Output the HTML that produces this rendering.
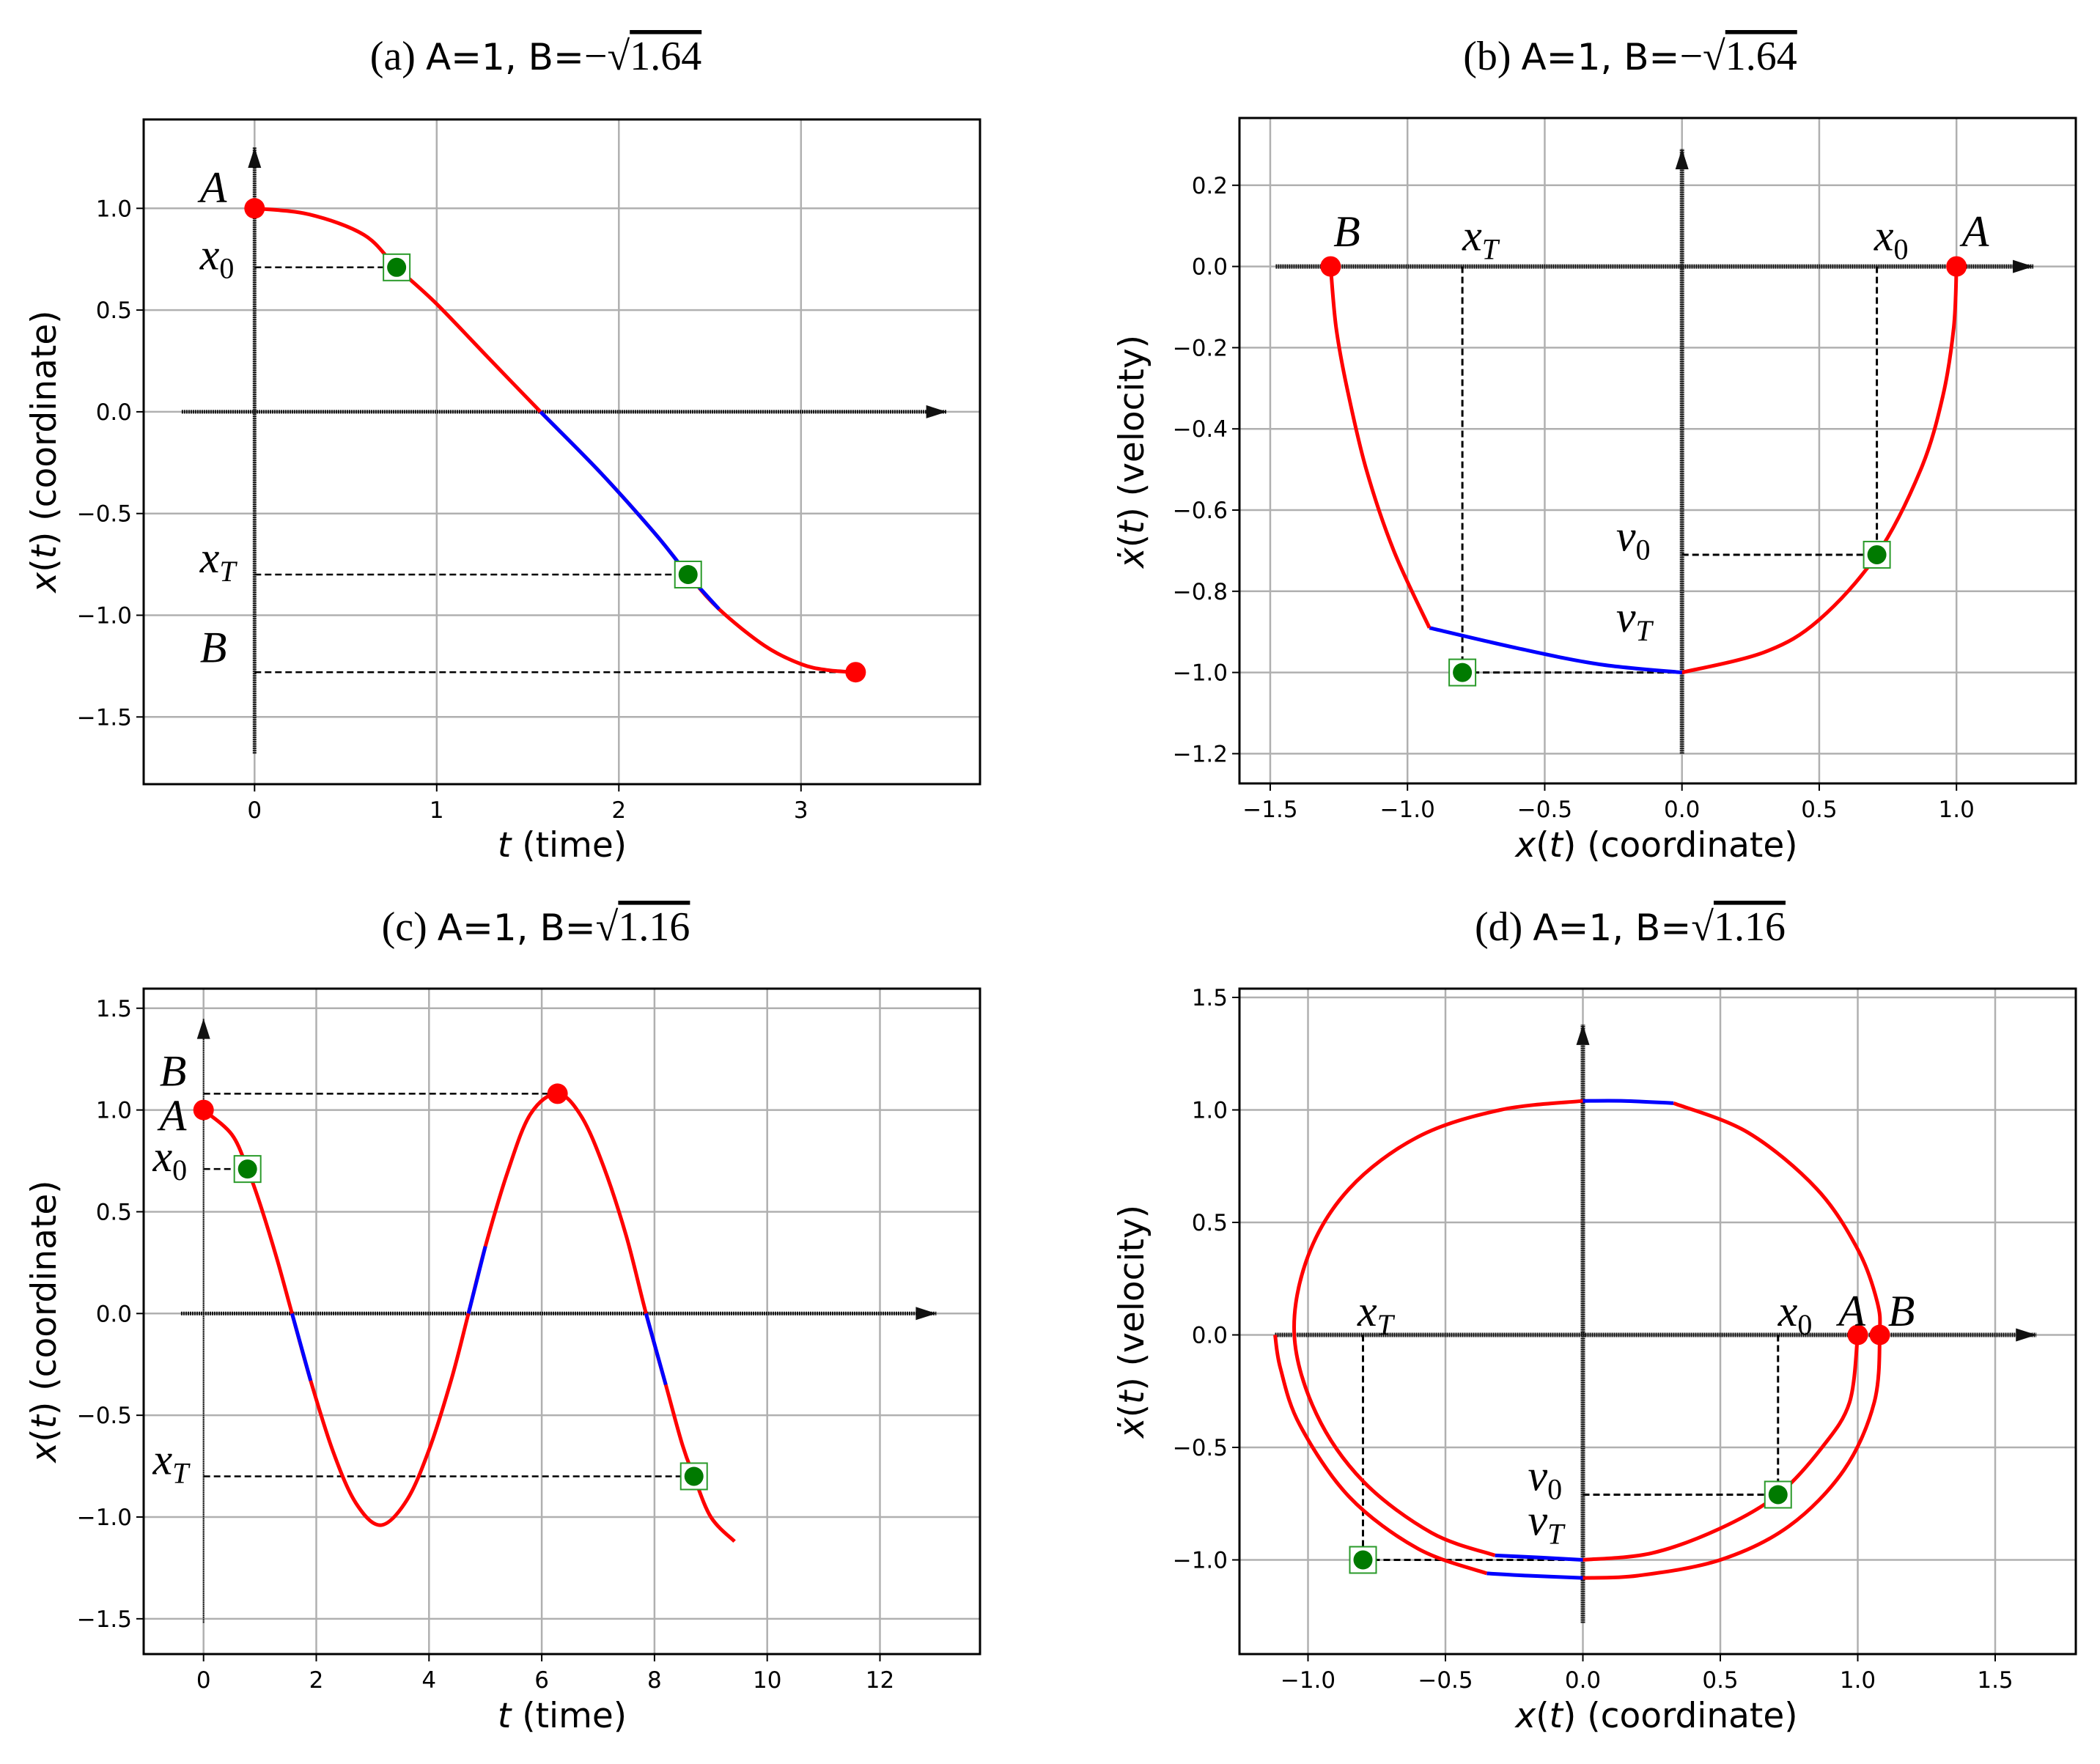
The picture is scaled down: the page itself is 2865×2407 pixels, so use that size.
<!DOCTYPE html>
<html><head><meta charset="utf-8"><style>
body{margin:0;background:#fff}
svg{display:block}
.tk{font-family:"DejaVu Sans","Liberation Sans",sans-serif;font-size:31px;fill:#000}
.al{font-family:"DejaVu Sans","Liberation Sans",sans-serif;font-size:47px;fill:#000}
.ti{font-size:56px;fill:#000}
.mt{font-family:"Liberation Serif",serif;font-style:italic;font-size:60px;fill:#000}
</style></head><body>
<svg id="fig" width="2865" height="2407" viewBox="0 0 2865 2407" xmlns="http://www.w3.org/2000/svg"></svg>
<script>
// ---- data ----
const aT=[0,0.3,0.6,0.78,1.0,1.3,1.57,1.9,2.2,2.38,2.55,2.8,3.0,3.15,3.3];
const aX=[1,0.97,0.87,0.71,0.53,0.25,0,-0.3,-0.6,-0.8,-0.97,-1.15,-1.24,-1.27,-1.28];
const aBlue=[1.57,2.55];
const bRX=[1,0.99,0.95,0.87,0.71,0.5,0.3,0];
const bRV=[0,-0.15,-0.32,-0.5,-0.71,-0.87,-0.95,-1];
const bBX=[0,-0.3,-0.6,-0.92];
const bBV=[-1,-0.98,-0.94,-0.89];
const bLX=[-0.92,-1.05,-1.15,-1.22,-1.26,-1.28];
const bLV=[-0.89,-0.7,-0.5,-0.3,-0.15,0];
const cT=[0,0.5,0.78,1.0,1.3,1.57,1.9,2.3,2.7,3.14,3.6,4.0,4.4,4.7,5.0,5.4,5.8,6.28,6.7,7.1,7.5,7.85,8.2,8.5,8.7,9.0,9.42];
const cX=[1,0.88,0.71,0.54,0.27,0,-0.33,-0.68,-0.93,-1.04,-0.92,-0.67,-0.32,0,0.33,0.7,0.98,1.08,0.97,0.72,0.38,0,-0.35,-0.65,-0.8,-1.0,-1.12];
const cBlue=[[1.57,1.9],[4.7,5.0],[7.85,8.2]];
const dSegX=[[1,0.97,0.87,0.71,0.5,0.25,0],[0,-0.15,-0.32],[-0.32,-0.55,-0.8,-0.97,-1.05,-1.0,-0.85,-0.6,-0.3,0],[0,0.15,0.33],[0.33,0.6,0.85,1.0,1.07,1.08,1.06,0.95,0.75,0.5,0.2,0],[0,-0.2,-0.35],[-0.35,-0.6,-0.85,-1.03,-1.1,-1.12]];
const dSegV=[[0,-0.3,-0.5,-0.71,-0.86,-0.97,-1],[-1,-0.99,-0.98],[-0.98,-0.88,-0.65,-0.35,0,0.35,0.65,0.88,1.0,1.04],[1.04,1.04,1.03],[1.03,0.9,0.65,0.38,0.15,0,-0.3,-0.6,-0.85,-1.0,-1.07,-1.08],[-1.08,-1.07,-1.06],[-1.06,-0.95,-0.72,-0.4,-0.15,0]];
const dSegC=['red','blue','red','blue','red','blue','red'];
const aTicksX=[0,1,2,3], aTicksY=[-1.5,-1.0,-0.5,0.0,0.5,1.0];
const bTicksX=[-1.5,-1.0,-0.5,0.0,0.5,1.0], bTicksY=[-1.2,-1.0,-0.8,-0.6,-0.4,-0.2,0.0,0.2];
const cTicksX=[0,2,4,6,8,10,12], cTicksY=[-1.5,-1.0,-0.5,0.0,0.5,1.0,1.5];
const dTicksX=[-1.0,-0.5,0.0,0.5,1.0,1.5], dTicksY=[-1.0,-0.5,0.0,0.5,1.0,1.5];

const NS='http://www.w3.org/2000/svg';
const svg=document.getElementById('fig');
function mk(tag,at,parent,txt){const e=document.createElementNS(NS,tag);for(const k in at)e.setAttribute(k,at[k]);if(txt!==undefined)e.textContent=txt;(parent||svg).appendChild(e);return e;}
function fmt(v,dec){const s=v.toFixed(dec);return s.replace('-','\u2212');}
function panel(name,P){
  const g=mk('g',{});
  
  
  P.sx=v=>P.x0+v*P.ux; P.sy=v=>P.y0-v*P.uy; P.g=g;
  P.tx.forEach(v=>{const l=mk('line',{x1:P.sx(v),x2:P.sx(v),y1:P.top,y2:P.bot,stroke:'#b0b0b0','stroke-width':2.5},g);
    mk('line',{x1:P.sx(v),x2:P.sx(v),y1:P.bot,y2:P.bot+10,stroke:'#000','stroke-width':2},g);
    const tx=mk('text',{x:P.sx(v),y:P.bot+46,'text-anchor':'middle',class:'tk'},g,fmt(v,P.dx));});
  P.ty.forEach(v=>{const l=mk('line',{x1:P.left,x2:P.right,y1:P.sy(v),y2:P.sy(v),stroke:'#b0b0b0','stroke-width':2.5},g);
    mk('line',{x1:P.left-10,x2:P.left,y1:P.sy(v),y2:P.sy(v),stroke:'#000','stroke-width':2},g);
    const tx=mk('text',{x:P.left-16,y:P.sy(v)+11,'text-anchor':'end',class:'tk'},g,fmt(v,P.dy));});
  const fr=mk('rect',{x:P.left,y:P.top,width:P.right-P.left,height:P.bot-P.top,fill:'none',stroke:'#000','stroke-width':3},g);
  
  return P;
}
function arrow(P,x1,y1,x2,y2,w){
  const X1=P.sx(x1),Y1=P.sy(y1),X2=P.sx(x2),Y2=P.sy(y2);
  const l=mk('line',{x1:X1,y1:Y1,x2:X2,y2:Y2,stroke:'#111','stroke-width':w,'stroke-dasharray':'2 1'},P.g);
  
  const dx=X2-X1,dy=Y2-Y1,L=Math.hypot(dx,dy),ux=dx/L,uy=dy/L,h=28,hw=9;
  mk('polygon',{points:`${X2},${Y2} ${X2-ux*h-uy*hw},${Y2-uy*h+ux*hw} ${X2-ux*h+uy*hw},${Y2-uy*h-ux*hw}`,fill:'#111'},P.g);
}
function line(P,xs,ys,color,name){
  const p=xs.map((x,i)=>[P.sx(x),P.sy(ys[i])]);
  let d='M'+p[0][0].toFixed(1)+','+p[0][1].toFixed(1);
  for(let i=0;i<p.length-1;i++){
    const p0=p[Math.max(0,i-1)],p1=p[i],p2=p[i+1],p3=p[Math.min(p.length-1,i+2)];
    const c1=[p1[0]+(p2[0]-p0[0])/6,p1[1]+(p2[1]-p0[1])/6],c2=[p2[0]-(p3[0]-p1[0])/6,p2[1]-(p3[1]-p1[1])/6];
    d+=` C${c1[0].toFixed(1)},${c1[1].toFixed(1)} ${c2[0].toFixed(1)},${c2[1].toFixed(1)} ${p2[0].toFixed(1)},${p2[1].toFixed(1)}`;
  }
  const e=mk('path',{d:d,fill:'none',stroke:color,'stroke-width':5,'stroke-linejoin':'round'},P.g);
  
}
function dash(P,x1,y1,x2,y2,w){const e=mk('line',{x1:P.sx(x1),y1:P.sy(y1),x2:P.sx(x2),y2:P.sy(y2),stroke:'#000','stroke-width':w||2.5,'stroke-dasharray':'9 5'},P.g);}
function redDot(P,x,y){const e=mk('circle',{cx:P.sx(x),cy:P.sy(y),r:14,fill:'red'},P.g);}
function green(P,x,y){const X=P.sx(x),Y=P.sy(y);
  const r=mk('rect',{x:X-18,y:Y-18,width:36,height:36,fill:'#fff',stroke:'#2a9a2a','stroke-width':2},P.g);
  const c=mk('circle',{cx:X,cy:Y,r:13,fill:'#007a00'},P.g);}
function lab(P,x,y,main,sub){const t=mk('text',{x:P.sx(x),y:P.sy(y),class:'mt'},P.g,main);
  if(sub){mk('tspan',{'font-size':'40','font-style':sub==='T'?'italic':'normal',dy:12},t,sub);}}
function splitDraw(P,T,X,ranges,name){
  line(P,T,X,'red',name+'-red');
  ranges.forEach(r=>{const ts=[],xs=[];T.forEach((t,i)=>{if(t>=r[0]-1e-9&&t<=r[1]+1e-9){ts.push(t);xs.push(X[i]);}});line(P,ts,xs,'blue',name+'-blue');});
}
function title(x,y,lbl,bstr,signNeg,root,name){
  const t=mk('text',{x:x,y:y,'text-anchor':'middle',class:'ti'},svg);
  
  mk('tspan',{'font-family':'Liberation Serif,serif'},t,lbl+' ');
  mk('tspan',{'font-family':'DejaVu Sans,Liberation Sans,sans-serif','font-size':'50'},t,'A=1, B=');
  mk('tspan',{'font-family':'Liberation Serif,serif'},t,(signNeg?'\u2212':'')+'\u221A');
  mk('tspan',{'font-family':'Liberation Serif,serif','text-decoration':'overline'},t,root);
}
function axlabel(x,y,rot,name){const t=mk('text',{x:x,y:y,'text-anchor':'middle',class:'al',transform:rot?`rotate(-90 ${x} ${y})`:''},svg);return t;}

// ---- panel a ----
const A=panel('panel-a',{left:196,right:1337,top:163,bot:1070,x0:347.3,ux:248.5,y0:561.9,uy:277.6,tx:aTicksX,ty:aTicksY,dx:0,dy:1});
arrow(A,-0.4,0,3.8,0,5);arrow(A,0,-1.68,0,1.3,5);
dash(A,0,0.71,0.78,0.71);dash(A,0,-0.8,2.38,-0.8);dash(A,0,-1.28,3.3,-1.28);
splitDraw(A,aT,aX,[aBlue],'curve-a');
redDot(A,aT[0],aX[0]);redDot(A,aT[aT.length-1],aX[aX.length-1]);
green(A,0.78,0.71);green(A,2.38,-0.8);
lab(A,-0.3,1.03,'A');lab(A,-0.3,0.7,'x','0');lab(A,-0.3,-0.79,'x','T');lab(A,-0.3,-1.23,'B');
title(731,95,'(a)',null,true,'1.64','title-a');
// ---- panel b ----
const B=panel('panel-b',{left:1691,right:2832,top:161,bot:1069,x0:2294.7,ux:374.5,y0:363.6,uy:554,tx:bTicksX,ty:bTicksY,dx:1,dy:1});
arrow(B,-1.48,0,1.28,0,6);arrow(B,0,-1.2,0,0.29,6);
dash(B,-0.8,0,-0.8,-1,3);dash(B,-0.8,-1,0,-1,3);dash(B,0.71,0,0.71,-0.71,3);dash(B,0,-0.71,0.71,-0.71,3);
line(B,bRX,bRV,'red','curve-b-right');line(B,bBX,bBV,'blue','curve-b-blue');line(B,bLX,bLV,'red','curve-b-left');
redDot(B,1,0);redDot(B,-1.28,0);green(B,0.71,-0.71);green(B,-0.8,-1);
lab(B,-1.27,0.05,'B');lab(B,-0.8,0.04,'x','T');lab(B,0.7,0.04,'x','0');lab(B,1.02,0.05,'A');lab(B,-0.24,-0.7,'v','0');lab(B,-0.24,-0.9,'v','T');
title(2224,95,'(b)',null,true,'1.64','title-b');
// ---- panel c ----
const C=panel('panel-c',{left:196,right:1337,top:1349,bot:2257,x0:277.7,ux:76.9,y0:1792.3,uy:277.7,tx:cTicksX,ty:cTicksY,dx:0,dy:1});
arrow(C,-0.4,0,13,0,5);arrow(C,0,-1.52,0,1.45,2);
dash(C,0,1.08,6.28,1.08);dash(C,0,0.71,0.78,0.71);dash(C,0,-0.8,8.7,-0.8);
splitDraw(C,cT,cX,cBlue,'curve-c');
redDot(C,0,1);redDot(C,6.28,1.08);green(C,0.78,0.71);green(C,8.7,-0.8);
lab(C,-0.78,1.12,'B');lab(C,-0.78,0.9,'A');lab(C,-0.9,0.7,'x','0');lab(C,-0.9,-0.79,'x','T');
title(731,1283,'(c)',null,false,'1.16','title-c');
// ---- panel d ----
const D=panel('panel-d',{left:1691,right:2832,top:1349,bot:2257,x0:2159.5,ux:375,y0:1821.5,uy:307,tx:dTicksX,ty:dTicksY,dx:1,dy:1});
arrow(D,-1.12,0,1.65,0,6);arrow(D,0,-1.28,0,1.38,6);
dash(D,-0.8,0,-0.8,-1,3);dash(D,-0.8,-1,0,-1,3);dash(D,0.71,0,0.71,-0.71,3);dash(D,0,-0.71,0.71,-0.71,3);
dSegX.forEach((xs,i)=>line(D,xs,dSegV[i],dSegC[i],'curve-d-seg'));
redDot(D,1,0);redDot(D,1.08,0);green(D,0.71,-0.71);green(D,-0.8,-1);
lab(D,-0.82,0.04,'x','T');lab(D,0.71,0.04,'x','0');lab(D,0.93,0.04,'A');lab(D,1.11,0.04,'B');lab(D,-0.2,-0.69,'v','0');lab(D,-0.2,-0.89,'v','T');
title(2224,1283,'(d)',null,false,'1.16','title-d');
// axis labels
(function(){
 function xt(t){mk('tspan',{'font-style':'italic'},t,'x');mk('tspan',{},t,'(');mk('tspan',{'font-style':'italic'},t,'t');}
 let t=axlabel(76,616,true,'y-axis-title-a');xt(t);mk('tspan',{},t,')  (coordinate)');
 t=axlabel(767,1169,false,'x-axis-title-a');mk('tspan',{'font-style':'italic'},t,'t');mk('tspan',{},t,' (time)');
 t=axlabel(1560,616,true,'y-axis-title-b');mk('tspan',{'font-style':'italic'},t,'\u1E8B');mk('tspan',{},t,'(');mk('tspan',{'font-style':'italic'},t,'t');mk('tspan',{},t,') (velocity)');
 t=axlabel(2260,1169,false,'x-axis-title-b');xt(t);mk('tspan',{},t,') (coordinate)');
 t=axlabel(76,1803,true,'y-axis-title-c');xt(t);mk('tspan',{},t,')  (coordinate)');
 t=axlabel(767,2357,false,'x-axis-title-c');mk('tspan',{'font-style':'italic'},t,'t');mk('tspan',{},t,' (time)');
 t=axlabel(1560,1803,true,'y-axis-title-d');mk('tspan',{'font-style':'italic'},t,'\u1E8B');mk('tspan',{},t,'(');mk('tspan',{'font-style':'italic'},t,'t');mk('tspan',{},t,') (velocity)');
 t=axlabel(2260,2357,false,'x-axis-title-d');xt(t);mk('tspan',{},t,') (coordinate)');
})();
</script>
</body></html>
